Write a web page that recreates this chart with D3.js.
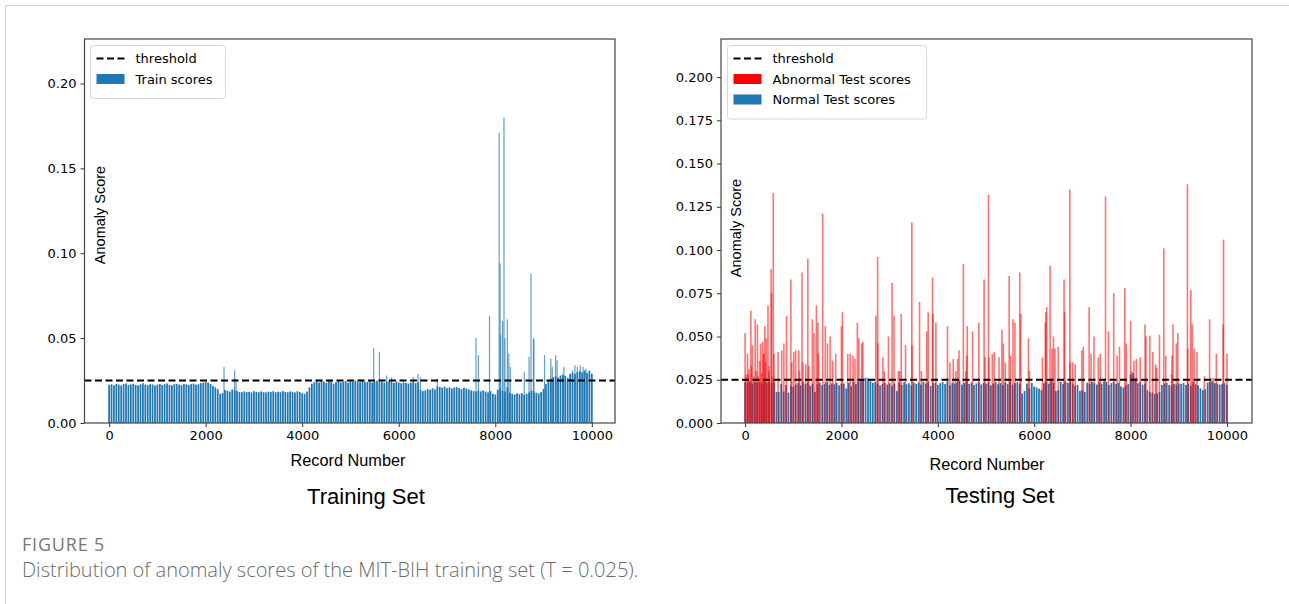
<!DOCTYPE html>
<html>
<head>
<meta charset="utf-8">
<script src="https://cdn.jsdelivr.net/npm/d3@7"></script>
<style>
  html, body { margin: 0; padding: 0; background: #fff; }
  svg { display: block; }
  .tick text { font-family: "DejaVu Sans", sans-serif; font-size: 13px; fill: #000; }
</style>
</head>
<body>
<svg id="fig" width="1289" height="604"></svg>
<script>
// ---------- data ----------
const threshold = 0.025;
const xTicks = [0, 2000, 4000, 6000, 8000, 10000];
const trainYTicks = [0, 0.05, 0.10, 0.15, 0.20];
const testYTicks = [0, 0.025, 0.05, 0.075, 0.1, 0.125, 0.15, 0.175, 0.2];

// Training set: averaged score per 50-record block (records 0..10000)
const trainBlockStep = 50;
const trainBlockScores = [
  .0225,.0228,.0222,.0230,.0226,.0221,.0229,.0233,.0224,.0227,.0231,.0225,.0222,.0228,.0234,.0226,.0223,.0229,.0227,.0221,
  .0226,.0230,.0224,.0228,.0233,.0225,.0222,.0229,.0231,.0226,.0223,.0230,.0227,.0224,.0229,.0232,.0226,.0228,.0235,.0238,
  .0242,
  .0238,.0230,.0218,.0210,.0200,.0172,.0176,.0195,
  .0190,.0185,.0198,.0192,.0188,.0183,.0181,.0186,.0182,.0184,.0180,.0188,.0183,.0181,.0186,.0182,.0180,.0185,.0183,.0187,
  .0181,.0184,.0182,.0188,.0183,.0181,.0186,.0184,.0180,.0187,.0182,.0175,
  .0172,.0185,.0210,.0232,
  .0240,.0245,.0238,.0247,.0243,.0236,.0249,.0244,.0232,.0241,.0246,.0239,.0243,.0248,.0237,.0245,.0242,.0250,.0244,.0239,
  .0247,.0243,.0241,.0246,.0238,.0244,.0249,.0240,.0245,.0237,.0243,.0247,.0241,.0236,.0244,.0238,.0234,.0239,.0236,.0232,
  .0238,.0241,.0235,.0240,
  .0195,.0188,.0192,.0200,.0196,.0205,.0198,.0215,
  .0212,.0208,.0215,.0205,.0210,.0203,.0209,.0212,.0206,.0200,.0208,.0203,.0198,.0192,.0188,.0185,
  .0190,.0186,.0192,.0185,.0180,.0188,.0172,.0168,
  .0195,.0200,.0190,.0185,.0210,.0178,
  .0172,.0168,.0175,.0170,.0176,.0165,.0172,
  .0180,.0190,.0185,.0178,.0174,.0182,.0200,
  .0230,.0255,.0262,.0270,.0275,.0268,.0280,.0285,.0278,.0265,.0290,.0295,.0288,.0300,.0305,.0298,.0310,.0295,.0305,.0290
];
// Training set: individual records standing out above their block
const trainPeakRecords = [2380, 2600, 2630, 4300, 4600, 5200, 5480, 5600, 5750, 5850, 6300, 6400, 6450, 6800,
  7600, 7650, 7880, 8080, 8100, 8110, 8150, 8180, 8200, 8250, 8280, 8310, 8600, 8700, 8740, 8790, 8800,
  9020, 9150, 9180, 9250, 9280, 9420, 9600, 9650, 9700, 9760, 9820, 9880, 9950];
const trainPeakScores = [.033, .031, .026, .026, .026, .026, .044, .042, .028, .027, .027, .029, .027, .026,
  .050, .040, .063, .171, .094, .052, .060, .180, .050, .061, .041, .033, .030, .039, .088, .050, .049,
  .040, .038, .033, .040, .037, .033, .031, .034, .033, .034, .033, .032, .031];

// Testing set: normal records, averaged score per 50-record block
const testBlockStep = 50;
const normalBlockScores = [
  .0235,.0230,.0240,.0228,.0236,.0232,.0238,.0229,.0242,.0233,.0236,.0230,.0238,
  .0180,.0178,.0225,.0182,.0220,.0176,.0215,.0210,
  .0222,.0230,.0218,.0235,.0226,.0232,.0215,.0228,.0180,.0225,.0233,.0219,.0227,.0236,.0221,.0229,.0224,.0231,.0218,.0226,
  .0228,.0200,.0232,.0212,.0238,.0225,.0240,.0248,.0255,.0262,.0258,.0245,.0232,.0236,.0228,.0218,.0225,.0233,.0222,.0230,
  .0215,.0228,.0185,.0232,.0220,.0236,.0224,.0230,.0218,.0235,.0227,.0233,.0222,.0238,.0229,.0236,.0214,.0228,.0232,.0221,
  .0230,.0236,.0225,.0240,.0218,.0232,.0228,.0236,.0245,.0222,.0231,.0238,.0226,.0234,.0220,.0229,.0236,.0223,.0231,.0227,
  .0232,.0218,.0228,.0236,.0224,.0230,.0219,.0233,.0226,.0239,.0221,.0230,.0236,.0225,.0170,.0185,.0228,.0200,.0232,.0210,
  .0205,.0198,.0190,.0230,.0236,.0228,.0240,.0232,.0185,.0190,.0238,.0225,.0240,.0232,.0236,.0228,.0215,.0220,.0185,.0190,
  .0180,.0232,.0226,.0238,.0230,.0222,.0235,.0228,.0242,.0236,.0220,.0230,.0238,.0226,.0232,.0212,.0205,.0218,.0225,.0280,
  .0290,.0260,.0230,.0235,.0222,.0228,.0190,.0180,.0175,.0168,.0172,.0178,.0220,.0228,.0232,.0220,.0215,.0226,.0222,.0230,
  .0226,.0232,.0220,.0228,.0215,.0236,.0224,.0218,.0200,.0190,.0195,.0232,.0238,.0240,.0230,.0228,.0222,.0226,.0230,.0220
];

// Testing set: abnormal records
const abnormalRecords = [
  0, 20, 50, 60, 80, 120, 130, 150, 180, 210, 230, 256, 270, 300, 325, 340, 365, 380, 390, 410, 420, 440, 475, 490, 500,
  540, 550, 560, 585, 600, 685, 760, 805, 860, 950, 970, 1010, 1050, 1115, 1130, 1180, 1200, 1260, 1302, 1320, 1395,
  1430, 1480, 1510, 1520, 1610, 1665, 1710, 1765, 1820, 1880, 2000, 2020, 2130, 2180, 2240, 2280, 2330, 2360, 2420,
  2444, 2714, 2750, 2755, 2860, 2890, 2975, 3050, 3090, 3180, 3210, 3240, 3330, 3460, 3465, 3620, 3660, 3770, 3800,
  3890, 3900, 3960, 4200, 4250, 4320, 4370, 4410, 4440, 4530, 4580, 4600, 4610, 4720, 4850, 4960, 4980, 5050, 5060,
  5130, 5170, 5270, 5330, 5360, 5400, 5480, 5510, 5560, 5600, 5700, 5720, 5880, 5900, 6170, 6230, 6240, 6260, 6330,
  6370, 6400, 6430, 6500, 6620, 6630, 6740, 6745, 6800, 6850, 6990, 7020, 7140, 7180, 7240, 7330, 7370, 7480, 7540,
  7650, 7720, 7770, 7880, 7910, 8000, 8020, 8070, 8120, 8200, 8300, 8320, 8400, 8460, 8520, 8540, 8600, 8690, 8730,
  8850, 8860, 8880, 8950, 8980, 9180, 9185, 9250, 9280, 9320, 9380, 9530, 9640, 9680, 9720, 9780, 9920, 9930, 10000
];
const abnormalScores = [
  .052, .028, .040, .028, .031, .065, .033, .045, .027, .060, .030, .057, .027, .036, .046, .029, .047, .040, .040, .056, .035, .049, .068, .030, .033,
  .089, .075, .027, .133, .040, .041, .042, .046, .062, .083, .035, .041, .042, .042, .030, .087, .035, .034, .095, .033, .060,
  .052, .068, .058, .040, .121, .056, .046, .050, .036, .040, .056, .064, .040, .040, .039, .037, .058, .049, .046,
  .047, .062, .096, .046, .038, .030, .050, .081, .062, .030, .030, .063, .045, .116, .045, .070, .030, .053, .064,
  .084, .063, .058, .056, .035, .037, .030, .037, .042, .092, .030, .039, .056, .053, .058, .083, .038, .132, .038,
  .040, .041, .038, .054, .046, .035, .085, .039, .060, .058, .087, .063, .049, .030, .038, .058, .064, .067, .091,
  .043, .050, .043, .044, .083, .064, .135, .035, .035, .034, .042, .044, .067, .040, .050, .038, .040, .131, .053,
  .075, .039, .044, .078, .046, .059, .030, .036, .037, .038, .057, .050, .0505, .041, .034, .032, .051, .101, .039,
  .028, .039, .057, .046, .052, .138, .043, .077, .057, .043, .041, .027, .060, .026, .026, .040, .057, .106, .040
];

// ---------- drawing ----------
const svg = d3.select("#fig");
const blue = "#1f77b4";

// card outline
svg.append("path")
  .attr("d", "M5.5,604 V5.5 H1289")
  .attr("fill", "none").attr("stroke", "#d4d4d4").attr("stroke-width", 1);

function panel(cfg) {
  const x = d3.scaleLinear().domain(cfg.xDomain).range([cfg.left, cfg.right]);
  const y = d3.scaleLinear().domain([0, cfg.yMax]).range([cfg.bottom, cfg.top]);
  const g = svg.append("g");

  const clipId = cfg.id + "-clip";
  svg.append("clipPath").attr("id", clipId)
    .append("rect").attr("x", cfg.left).attr("y", cfg.top)
    .attr("width", cfg.right - cfg.left).attr("height", cfg.bottom - cfg.top);
  const plot = g.append("g").attr("clip-path", `url(#${clipId})`);

  // axes
  g.append("g").attr("transform", `translate(0,${cfg.bottom})`)
    .call(d3.axisBottom(x).tickValues(xTicks).tickFormat(d3.format("d")).tickSizeOuter(0).tickSize(4).tickPadding(4))
    .call(a => a.select(".domain").remove())
    .call(a => a.selectAll(".tick line").attr("stroke", "#333"));
  g.append("g").attr("transform", `translate(${cfg.left},0)`)
    .call(d3.axisLeft(y).tickValues(cfg.yTicks).tickFormat(d3.format(cfg.yFormat)).tickSizeOuter(0).tickSize(4).tickPadding(4))
    .call(a => a.select(".domain").remove())
    .call(a => a.selectAll(".tick line").attr("stroke", "#333"));

  return { x, y, g, plot };
}

function frame(p, cfg) {
  p.g.append("rect")
    .attr("x", cfg.left).attr("y", cfg.top)
    .attr("width", cfg.right - cfg.left).attr("height", cfg.bottom - cfg.top)
    .attr("fill", "none").attr("stroke", "#444").attr("stroke-width", 1.2);
}

function thresholdLine(p, cfg) {
  p.plot.append("line")
    .attr("x1", cfg.left).attr("x2", cfg.right)
    .attr("y1", p.y(threshold)).attr("y2", p.y(threshold))
    .attr("stroke", "#000").attr("stroke-width", 2).attr("stroke-dasharray", "7,3.5");
}

function labels(p, cfg) {
  p.g.append("text")
    .attr("transform", `translate(${cfg.yLabelX},${cfg.yLabelY}) rotate(-90)`)
    .attr("text-anchor", "middle")
    .attr("font-family", "Liberation Sans, Arial, sans-serif").attr("font-size", 14.5)
    .text("Anomaly Score");
  p.g.append("text")
    .attr("x", cfg.xLabelX).attr("y", cfg.xLabelY)
    .attr("text-anchor", "middle")
    .attr("font-family", "Liberation Sans, Arial, sans-serif").attr("font-size", 16.3)
    .text("Record Number");
  p.g.append("text")
    .attr("x", cfg.titleX).attr("y", cfg.titleY)
    .attr("text-anchor", "middle")
    .attr("font-family", "Liberation Sans, Arial, sans-serif").attr("font-size", 22)
    .text(cfg.title);
}

function legend(p, cfg, items) {
  const lg = p.g.append("g");
  lg.append("rect")
    .attr("x", cfg.lgX).attr("y", cfg.lgY).attr("width", cfg.lgW).attr("height", 12 + items.length * 20.5)
    .attr("rx", 3).attr("fill", "#fff").attr("fill-opacity", 0.85)
    .attr("stroke", "#d8d8d8");
  items.forEach((it, i) => {
    const cy = cfg.lgY + 13 + i * 20.5;
    if (it.type === "line") {
      lg.append("line").attr("x1", cfg.lgX + 6).attr("x2", cfg.lgX + 34)
        .attr("y1", cy).attr("y2", cy)
        .attr("stroke", "#000").attr("stroke-width", 2).attr("stroke-dasharray", "7,3.5");
    } else {
      lg.append("rect").attr("x", cfg.lgX + 6).attr("y", cy - 5).attr("width", 28).attr("height", 10)
        .attr("fill", it.color);
    }
    lg.append("text").attr("x", cfg.lgX + 45).attr("y", cy + 4.5)
      .attr("font-family", "DejaVu Sans, sans-serif").attr("font-size", 13)
      .text(it.label);
  });
}

// ----- training panel -----
const trainCfg = {
  id: "train", left: 84.5, right: 615, top: 39, bottom: 423,
  xDomain: [-510, 10480], yMax: 0.2262, yTicks: trainYTicks, yFormat: ".2f",
  yLabelX: 105, yLabelY: 215, xLabelX: 348, xLabelY: 466,
  titleX: 366, titleY: 504, title: "Training Set",
  lgX: 90.5, lgY: 45.5, lgW: 135
};
const tp = panel(trainCfg);
const trainBlocks = trainBlockScores.map((v, i) => ({ rec: i * trainBlockStep, v }));
const tbw = 1.75;
tp.plot.selectAll("rect.block").data(trainBlocks).join("rect")
  .attr("class", "block")
  .attr("x", d => tp.x(d.rec) - tbw / 2).attr("width", tbw)
  .attr("y", d => tp.y(d.v)).attr("height", d => tp.y(0) - tp.y(d.v))
  .attr("fill", blue);
const trainPeaks = trainPeakRecords.map((r, i) => ({ rec: r, v: trainPeakScores[i] }));
tp.plot.selectAll("rect.peak").data(trainPeaks).join("rect")
  .attr("class", "peak")
  .attr("x", d => tp.x(d.rec) - 0.6).attr("width", 1.2)
  .attr("y", d => tp.y(d.v)).attr("height", d => tp.y(0) - tp.y(d.v))
  .attr("fill", blue).attr("fill-opacity", 0.7);
thresholdLine(tp, trainCfg);
frame(tp, trainCfg);
labels(tp, trainCfg);
legend(tp, trainCfg, [
  { type: "line", label: "threshold" },
  { type: "rect", color: blue, label: "Train scores" }
]);

// ----- testing panel -----
const testCfg = {
  id: "test", left: 721, right: 1252, top: 39, bottom: 423,
  xDomain: [-500, 10520], yMax: 0.222, yTicks: testYTicks, yFormat: ".3f",
  yLabelX: 741, yLabelY: 228, xLabelX: 987, xLabelY: 470,
  titleX: 1000, titleY: 503, title: "Testing Set",
  lgX: 727.5, lgY: 45.5, lgW: 199
};
const sp = panel(testCfg);
const normalBlocks = normalBlockScores.map((v, i) => ({ rec: i * testBlockStep, v }));
sp.plot.selectAll("rect.block").data(normalBlocks).join("rect")
  .attr("class", "block")
  .attr("x", d => sp.x(d.rec) - tbw / 2).attr("width", tbw)
  .attr("y", d => sp.y(d.v)).attr("height", d => sp.y(0) - sp.y(d.v))
  .attr("fill", blue);
const abnormal = abnormalRecords.map((r, i) => ({ rec: r, v: abnormalScores[i] }));
sp.plot.selectAll("rect.abn").data(abnormal).join("rect")
  .attr("class", "abn")
  .attr("x", d => sp.x(d.rec) - 0.8).attr("width", 1.6)
  .attr("y", d => sp.y(d.v)).attr("height", d => sp.y(0) - sp.y(d.v))
  .attr("fill", "red").attr("fill-opacity", 0.55);
thresholdLine(sp, testCfg);
frame(sp, testCfg);
labels(sp, testCfg);
legend(sp, testCfg, [
  { type: "line", label: "threshold" },
  { type: "rect", color: "red", label: "Abnormal Test scores" },
  { type: "rect", color: blue, label: "Normal Test scores" }
]);

// ----- caption -----
svg.append("text").attr("x", 22).attr("y", 551)
  .attr("font-family", "Open Sans, Noto Sans, sans-serif").attr("font-size", 18)
  .attr("font-weight", 500).attr("letter-spacing", 0.8)
  .attr("fill", "#777").text("FIGURE 5");
svg.append("text").attr("x", 22).attr("y", 577)
  .attr("font-family", "Open Sans, Noto Sans, sans-serif").attr("font-size", 20).attr("font-weight", 300)
  .attr("fill", "#6a6a6a").text("Distribution of anomaly scores of the MIT-BIH training set (T = 0.025).");
</script>
</body>
</html>
